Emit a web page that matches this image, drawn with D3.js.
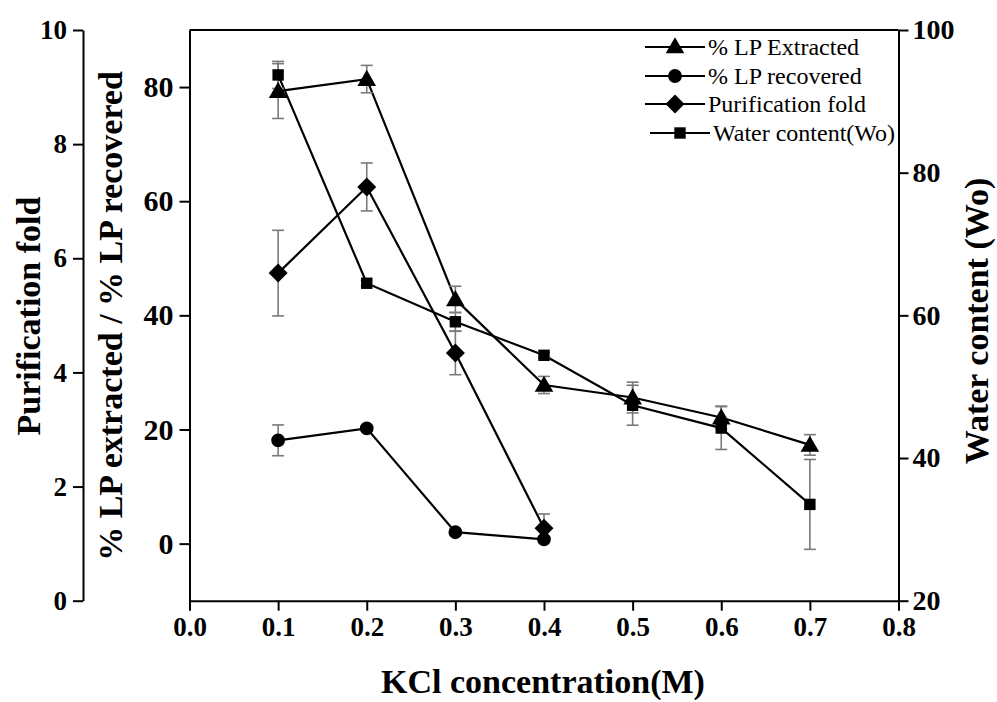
<!DOCTYPE html>
<html>
<head>
<meta charset="utf-8">
<script src="https://cdn.jsdelivr.net/npm/d3@7"></script>
<style>
  body { margin: 0; background: #fff; }
  svg { display: block; }
  text { font-family: "Liberation Serif", "Times New Roman", serif; fill: #000; }
</style>
</head>
<body>
<svg id="chart" width="997" height="702"></svg>
<script>
// KCl concentration (M)
const conc = [0.1, 0.2, 0.3, 0.4, 0.5, 0.6, 0.7]

// % LP extracted (left inner axis)
const extracted    = [79.3, 81.4, 42.8, 27.8, 25.6, 22.1, 17.3]
const extractedErr = [4.8, 2.4, 2.3, 1.5, 2.7, 2.0, 1.8]

// % LP recovered (left inner axis)
const recovered    = [18.1, 20.2, 2.0, 0.75]
const recoveredErr = [2.7, 0.5, 0.4, 0.4]

// purification fold (left outer axis)
const purification    = [5.74, 7.25, 4.34, 1.27]
const purificationErr = [0.75, 0.42, 0.38, 0.25]

// water content Wo (right axis)
const water    = [93.7, 64.5, 59.1, 54.4, 47.4, 44.2, 33.5]
const waterErr = [1.9, 0.4, 1.3, 0.4, 2.8, 3.0, 6.3]

const xTicks     = [0, 0.1, 0.2, 0.3, 0.4, 0.5, 0.6, 0.7, 0.8]
const foldTicks  = [0, 2, 4, 6, 8, 10]
const pctTicks   = [0, 20, 40, 60, 80]
const waterTicks = [20, 40, 60, 80, 100]

const legendItems = [
  { label: '% LP Extracted', shape: 'triangle' },
  { label: '% LP recovered', shape: 'circle' },
  { label: 'Purification fold', shape: 'diamond' },
  { label: 'Water content(Wo)', shape: 'square' }
]

const svg = d3.select('#chart')
const plotLeft = 189.5, plotRight = 898.5, plotTop = 30, plotBottom = 600.7

const x      = d3.scaleLinear().domain([0, 0.8]).range([plotLeft, plotRight])
const yFold  = d3.scaleLinear().domain([0, 10]).range([plotBottom, plotTop])
const yPct   = d3.scaleLinear().domain([-10, 90]).range([plotBottom, plotTop])
const yWater = d3.scaleLinear().domain([20, 100]).range([plotBottom, plotTop])

svg.append('rect').attr('width', 997).attr('height', 702).attr('fill', '#fff')

function styleAxis(g, size) {
  g.selectAll('path, line').attr('stroke', '#000').attr('stroke-width', 2)
  g.selectAll('text')
    .style('font-family', '"Liberation Serif", "Times New Roman", serif')
    .style('font-weight', 'bold')
    .style('font-size', size + 'px')
}

// frame top line
svg.append('line')
  .attr('x1', plotLeft).attr('x2', plotRight).attr('y1', plotTop).attr('y2', plotTop)
  .attr('stroke', '#000').attr('stroke-width', 2)

// x axis
svg.append('g')
  .attr('transform', `translate(0,${plotBottom})`)
  .call(d3.axisBottom(x).tickValues(xTicks).tickFormat(d3.format('.1f')).tickSize(10).tickSizeOuter(0).tickPadding(6))
  .call(g => styleAxis(g, 27))

// inner left axis (% LP)
svg.append('g')
  .attr('transform', `translate(${plotLeft},0)`)
  .call(d3.axisLeft(yPct).tickValues(pctTicks).tickSize(10).tickSizeOuter(0).tickPadding(6))
  .call(g => styleAxis(g, 30))

// outer left axis (purification fold)
svg.append('g')
  .attr('transform', 'translate(83,0)')
  .call(d3.axisLeft(yFold).tickValues(foldTicks).tickSize(10).tickSizeOuter(0).tickPadding(6))
  .call(g => styleAxis(g, 27))

// right axis (water content)
svg.append('g')
  .attr('transform', `translate(${plotRight},0)`)
  .call(d3.axisRight(yWater).tickValues(waterTicks).tickSize(10).tickSizeOuter(0).tickPadding(4))
  .call(g => styleAxis(g, 28))

// axis titles
const title = (txt, tx, ty, rot) => svg.append('text')
  .attr('transform', `translate(${tx},${ty}) rotate(${rot})`)
  .attr('text-anchor', 'middle')
  .attr('dominant-baseline', 'central')
  .style('font-weight', 'bold')
  .style('font-size', '34px')
  .text(txt)

title('Purification fold', 28, 316, -90)
title('% LP extracted / % LP recovered', 110, 316, -90)
title('Water content (Wo)', 976, 321, -90)
svg.append('text')
  .attr('x', 543).attr('y', 693)
  .attr('text-anchor', 'middle')
  .style('font-weight', 'bold')
  .style('font-size', '34px')
  .text('KCl concentration(M)')

const symbols = {
  triangle: d3.symbol().type(d3.symbolTriangle).size(150),
  circle: d3.symbol().type(d3.symbolCircle).size(150),
  diamond: d3.symbol().type(d3.symbolDiamond2).size(230),
  square: d3.symbol().type(d3.symbolSquare).size(130)
}

const series = [
  { vals: water, err: waterErr, y: yWater, shape: 'square' },
  { vals: purification, err: purificationErr, y: yFold, shape: 'diamond' },
  { vals: recovered, err: recoveredErr, y: yPct, shape: 'circle' },
  { vals: extracted, err: extractedErr, y: yPct, shape: 'triangle' }
]

const plot = svg.append('g')

series.forEach(s => {
  const pts = s.vals.map((v, i) => ({ x: conc[i], v, e: s.err[i] }))
  plot.append('path')
    .datum(pts)
    .attr('fill', 'none')
    .attr('stroke', '#000')
    .attr('stroke-width', 2.2)
    .attr('d', d3.line().x(d => x(d.x)).y(d => s.y(d.v)))
})

series.forEach(s => {
  const pts = s.vals.map((v, i) => ({ x: conc[i], v, e: s.err[i] }))
  const eb = plot.append('g').attr('stroke', '#7a7a7a').attr('stroke-width', 1.6)
  pts.forEach(d => {
    const cx = x(d.x), y0 = s.y(d.v - d.e), y1 = s.y(d.v + d.e)
    eb.append('line').attr('x1', cx).attr('x2', cx).attr('y1', y0).attr('y2', y1)
    eb.append('line').attr('x1', cx - 6).attr('x2', cx + 6).attr('y1', y0).attr('y2', y0)
    eb.append('line').attr('x1', cx - 6).attr('x2', cx + 6).attr('y1', y1).attr('y2', y1)
  })
})

series.forEach(s => {
  const pts = s.vals.map((v, i) => ({ x: conc[i], v }))
  plot.append('g').selectAll('path')
    .data(pts)
    .join('path')
    .attr('transform', d => `translate(${x(d.x)},${s.y(d.v) + (s.shape === 'triangle' ? 1.5 : 0)})`)
    .attr('d', symbols[s.shape]())
    .attr('fill', '#000')
})

// legend
const legend = svg.append('g')
legendItems.forEach((item, i) => {
  const ly = [47, 76, 104, 133][i]
  const dx = i === 3 ? 5 : 0
  const g = legend.append('g').attr('transform', `translate(${645 + dx},${ly})`)
  g.append('line').attr('x1', 0).attr('x2', 60).attr('y1', 0).attr('y2', 0)
    .attr('stroke', '#000').attr('stroke-width', 2)
  g.append('path').attr('transform', `translate(30,${item.shape === 'triangle' ? 1 : 0})`)
    .attr('d', symbols[item.shape]()).attr('fill', '#000')
  g.append('text').attr('x', 63).attr('y', 0)
    .attr('dominant-baseline', 'central')
    .style('font-size', '24px')
    .text(item.label)
})
</script>
</body>
</html>
